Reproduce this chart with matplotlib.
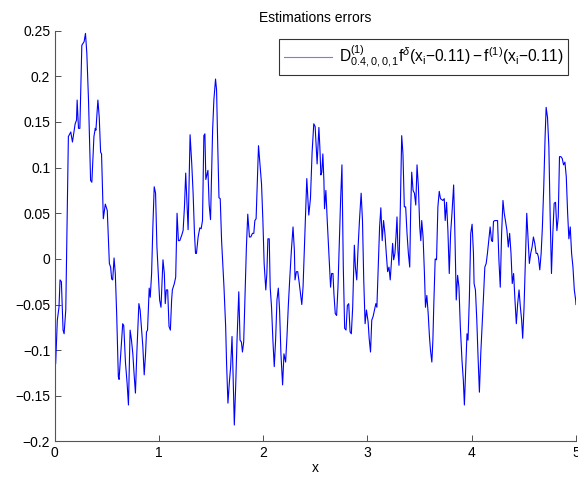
import numpy as np
import matplotlib
matplotlib.use("Agg")
import matplotlib.pyplot as plt

plt.rcParams['font.family'] = ['Liberation Sans', 'DejaVu Sans']
plt.rcParams['mathtext.fontset'] = 'custom'
plt.rcParams['mathtext.rm'] = 'Liberation Sans'
plt.rcParams['mathtext.it'] = 'Liberation Sans:italic'
plt.rcParams['mathtext.bf'] = 'Liberation Sans:bold'

# error curve
x_vals = [
    0.000, 0.011, 0.027, 0.043, 0.053, 0.066, 0.082, 0.092, 0.108, 0.133,
    0.156, 0.172, 0.198, 0.211, 0.217, 0.230, 0.243, 0.262, 0.284, 0.297,
    0.310, 0.326, 0.346, 0.358, 0.378, 0.391, 0.397, 0.416, 0.429, 0.442,
    0.451, 0.468, 0.487, 0.506, 0.526, 0.538, 0.548, 0.558, 0.571, 0.583,
    0.596, 0.612, 0.619, 0.635, 0.654, 0.664, 0.680, 0.696, 0.709, 0.725,
    0.738, 0.751, 0.763, 0.776, 0.789, 0.809, 0.821, 0.834, 0.847, 0.860,
    0.873, 0.882, 0.892, 0.908, 0.918, 0.931, 0.943, 0.956, 0.969, 0.982,
    0.995, 1.008, 1.021, 1.040, 1.053, 1.062, 1.072, 1.085, 1.098, 1.111,
    1.123, 1.130, 1.149, 1.162, 1.175, 1.188, 1.201, 1.220, 1.233, 1.246,
    # 1.25 .. 2.45
    1.258, 1.281, 1.300, 1.316, 1.329, 1.342, 1.352, 1.361, 1.377, 1.393,
    1.406, 1.419, 1.432, 1.442, 1.451, 1.471, 1.483, 1.496, 1.516, 1.528,
    1.544, 1.554, 1.564, 1.577, 1.589, 1.602, 1.625, 1.641, 1.650, 1.663,
    1.676, 1.689, 1.702, 1.712, 1.724, 1.737, 1.750, 1.767, 1.779, 1.792,
    1.802, 1.814, 1.827, 1.840, 1.853, 1.869, 1.882, 1.898, 1.911, 1.921,
    1.933, 1.943, 1.956, 1.972, 1.985, 1.998, 2.010, 2.026, 2.036, 2.046,
    2.059, 2.068, 2.081, 2.094, 2.107, 2.120, 2.133, 2.146, 2.158, 2.171,
    2.187, 2.200, 2.216, 2.229, 2.242, 2.255, 2.271, 2.287, 2.300, 2.306,
    2.319, 2.332, 2.345, 2.358, 2.371, 2.383, 2.396, 2.409, 2.419, 2.438,
    # 2.45 .. 3.70
    2.454, 2.470, 2.486, 2.499, 2.518, 2.535, 2.544, 2.554, 2.563, 2.573,
    2.583, 2.589, 2.602, 2.615, 2.631, 2.647, 2.657, 2.670, 2.679, 2.692,
    2.705, 2.718, 2.730, 2.743, 2.756, 2.769, 2.782, 2.795, 2.808, 2.821,
    2.834, 2.846, 2.859, 2.875, 2.885, 2.898, 2.911, 2.924, 2.940, 2.953,
    2.965, 2.978, 2.991, 3.007, 3.017, 3.030, 3.042, 3.055, 3.068, 3.081,
    3.091, 3.104, 3.117, 3.129, 3.142, 3.155, 3.168, 3.181, 3.194, 3.207,
    3.219, 3.229, 3.242, 3.252, 3.264, 3.274, 3.284, 3.293, 3.303, 3.316,
    3.329, 3.341, 3.354, 3.367, 3.380, 3.393, 3.406, 3.415, 3.425, 3.438,
    3.451, 3.464, 3.476, 3.489, 3.502, 3.512, 3.521, 3.534, 3.547, 3.557,
    3.570, 3.583, 3.595, 3.605, 3.618, 3.628, 3.637, 3.650, 3.663, 3.676,
    3.689, 3.701,
    # 3.70 .. 5
    3.724, 3.737, 3.746, 3.759, 3.772, 3.785, 3.798, 3.811, 3.827, 3.839,
    3.852, 3.865, 3.878, 3.891, 3.907, 3.920, 3.930, 3.942, 3.955, 3.965,
    3.978, 3.991, 4.004, 4.017, 4.023, 4.036, 4.049, 4.061, 4.074, 4.087,
    4.100, 4.113, 4.126, 4.139, 4.151, 4.164, 4.177, 4.190, 4.200, 4.209,
    4.222, 4.235, 4.248, 4.261, 4.274, 4.287, 4.300, 4.312, 4.325, 4.338,
    4.351, 4.364, 4.377, 4.389, 4.402, 4.415, 4.428, 4.441, 4.454, 4.467,
    4.479, 4.489, 4.502, 4.515, 4.528, 4.540, 4.553, 4.566, 4.579, 4.592,
    4.605, 4.618, 4.630, 4.640, 4.653, 4.666, 4.678, 4.691, 4.704, 4.714,
    4.727, 4.740, 4.752, 4.765, 4.778, 4.791, 4.804, 4.817, 4.830, 4.842,
    4.855, 4.868, 4.881, 4.894, 4.907, 4.920, 4.932, 4.945, 4.958, 4.971,
    4.984, 4.997, 5.000,
]

y_vals = [
    -0.111, -0.115, -0.067, -0.053, -0.023, -0.025, -0.078, -0.082, -0.056, 0.134,
    0.139, 0.128, 0.148, 0.152, 0.174, 0.143, 0.143, 0.234, 0.238, 0.247,
    0.225, 0.174, 0.086, 0.084, 0.134, 0.143, 0.141, 0.174, 0.155, 0.117,
    0.115, 0.044, 0.060, 0.053, -0.005, -0.009, -0.022, -0.023, 0.001, -0.016,
    -0.060, -0.129, -0.132, -0.104, -0.071, -0.073, -0.113, -0.136, -0.160, -0.078,
    -0.089, -0.104, -0.126, -0.147, -0.104, -0.049, -0.056, -0.076, -0.096, -0.127,
    -0.104, -0.080, -0.078, -0.032, -0.042, -0.016, 0.035, 0.079, 0.072, 0.013,
    -0.016, -0.045, -0.053, -0.001, -0.016, -0.049, -0.034, -0.034, -0.074, -0.078,
    -0.045, -0.034, -0.027, -0.020, 0.050, 0.020, 0.020, 0.026, 0.031, 0.057,
    # 1.25 .. 2.45
    0.094, 0.032, 0.136, 0.104, 0.072, 0.028, 0.006, 0.006, 0.024, 0.034,
    0.033, 0.042, 0.135, 0.137, 0.087, 0.097, 0.059, 0.043, 0.141, 0.174,
    0.197, 0.185, 0.130, 0.067, 0.066, 0.020, -0.031, -0.074, -0.115, -0.158,
    -0.136, -0.118, -0.085, -0.126, -0.182, -0.140, -0.089, -0.036, -0.089, -0.091,
    -0.102, -0.091, -0.038, 0.013, 0.049, 0.024, 0.024, 0.028, 0.028, 0.042,
    0.044, 0.079, 0.124, 0.101, 0.082, 0.042, -0.005, -0.034, -0.016, 0.022,
    0.022, -0.031, -0.053, -0.089, -0.118, -0.089, -0.045, -0.032, -0.056, -0.104,
    -0.138, -0.104, -0.113, -0.085, -0.051, -0.023, 0.009, 0.035, 0.009, -0.023,
    -0.014, -0.014, -0.025, -0.038, -0.050, -0.031, 0.013, 0.057, 0.088, 0.048,
    # 2.45 .. 3.70
    0.066, 0.117, 0.148, 0.145, 0.104, 0.144, 0.123, 0.092, 0.095, 0.115,
    0.086, 0.055, 0.075, 0.042, 0.006, -0.031, -0.016, -0.016, -0.038, -0.060,
    -0.062, -0.031, 0.013, 0.064, 0.103, -0.009, -0.076, -0.078, -0.051, -0.049,
    -0.080, -0.082, -0.053, 0.015, -0.009, -0.023, 0.013, 0.042, 0.072, 0.042,
    -0.023, -0.071, -0.056, -0.069, -0.087, -0.102, -0.067, -0.063, -0.056, -0.049,
    -0.053, -0.009, 0.035, 0.056, 0.020, 0.042, 0.028, 0.006, -0.014, -0.009,
    -0.023, -0.005, 0.017, -0.001, 0.006, 0.024, 0.046, 0.009, -0.007, 0.057,
    0.135, 0.115, 0.057, 0.057, 0.028, 0.006, -0.009, 0.053, 0.095, 0.075,
    0.072, 0.059, 0.103, 0.079, 0.035, 0.020, 0.042, 0.024, -0.016, -0.053,
    -0.040, -0.060, -0.085, -0.100, -0.113, -0.089, -0.049, 0.000, -0.001, 0.057,
    0.074, 0.066,
    # 3.70 .. 5
    0.064, 0.066, 0.042, 0.062, 0.031, -0.016, 0.028, 0.050, 0.081, 0.028,
    -0.045, -0.018, -0.031, -0.074, -0.111, -0.133, -0.160, -0.122, -0.082, -0.089,
    -0.042, 0.028, 0.038, 0.006, -0.027, -0.034, -0.067, -0.107, -0.146, -0.104,
    -0.074, -0.042, -0.009, -0.005, 0.006, 0.020, 0.035, 0.020, 0.019, 0.041,
    0.042, 0.042, 0.042, -0.001, -0.031, 0.028, 0.064, 0.050, 0.041, 0.031,
    0.013, 0.028, 0.006, -0.027, -0.016, -0.045, -0.071, -0.049, -0.034, -0.053,
    -0.067, -0.087, -0.053, -0.001, 0.050, 0.024, -0.005, 0.006, 0.013, 0.024,
    0.017, 0.006, 0.006, 0.002, -0.012, 0.006, 0.035, 0.079, 0.134, 0.166,
    0.155, 0.123, 0.050, -0.016, 0.028, 0.061, 0.062, 0.031, 0.046, 0.112,
    0.112, 0.110, 0.103, 0.106, 0.090, 0.050, 0.022, 0.035, 0.006, -0.009,
    -0.034, -0.045, -0.050,
]

x_ticks = [0, 1, 2, 3, 4, 5]
y_ticks = [-0.2, -0.15, -0.1, -0.05, 0, 0.05, 0.1, 0.15, 0.2, 0.25]
y_labels = ['\u22120.2', '\u22120.15', '\u22120.1', '\u22120.05', '0',
            '0.05', '0.1', '0.15', '0.2', '0.25']

label = (r'$\mathrm{D}^{(1)}_{0.4,0,0,1}\mathrm{f}^{\delta}(\mathrm{x}_{\mathrm{i}}'
         r'\mathrm{-0.11)-f}^{(1)}(\mathrm{x}_{\mathrm{i}}\mathrm{-0.11)}$')

fig = plt.figure(figsize=(5.78, 4.86), dpi=100)
ax = fig.add_axes([0.0943, 0.0916, 0.9022, 0.8453])

ax.plot(x_vals, y_vals, color='#0000ff', linewidth=0.8, label=label)

ax.set_xlim(0, 5)
ax.set_ylim(-0.2, 0.25)
ax.set_xticks(x_ticks)
ax.set_xticklabels([str(t) for t in x_ticks])
ax.set_yticks(y_ticks)
ax.set_yticklabels(y_labels)

for side in ['top', 'right']:
    ax.spines[side].set_visible(False)
for side in ['left', 'bottom']:
    ax.spines[side].set_color('#555555')
    ax.spines[side].set_linewidth(0.8)
ax.tick_params(direction='in', length=4, width=0.6, color='#333333',
               labelsize=10, labelcolor='black', pad=3)

ax.set_title('Estimations errors', fontsize=10, pad=6)
ax.set_xlabel('x', fontsize=10, labelpad=1)

leg = ax.legend(loc='upper right', bbox_to_anchor=(0.9827, 0.9198),
                bbox_transform=fig.transFigure, fancybox=False,
                fontsize=11.2, handlelength=3.1, borderpad=0.3,
                borderaxespad=0, handletextpad=0.45)
leg.get_frame().set_edgecolor('black')
leg.get_frame().set_linewidth(0.8)
leg.get_lines()[0].set_color('#7777ff')

fig.savefig('out.png', dpi=100)
